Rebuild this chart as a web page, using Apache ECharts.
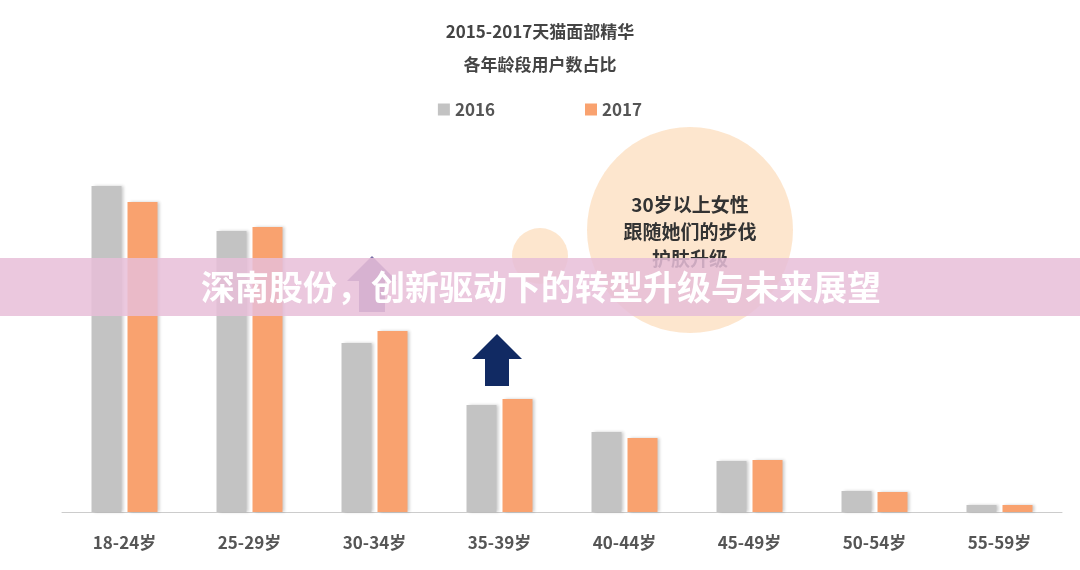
<!DOCTYPE html>
<html><head><meta charset="utf-8">
<script src="https://cdn.jsdelivr.net/npm/echarts@6/dist/echarts.min.js"></script>
<style>html,body{margin:0;background:#fff}#c{width:1080px;height:570px}</style>
</head><body><div id="c"></div>
<script>
var ages = ['18-24岁','25-29岁','30-34岁','35-39岁','40-44岁','45-49岁','50-54岁','55-59岁'];
var s2016 = [326, 281, 169, 107, 80, 51, 21, 7];
var s2017 = [310, 285, 181, 113, 74, 52, 20, 7];
var font = '"Noto Sans CJK SC", sans-serif';

var chart = echarts.init(document.getElementById('c'));
chart.setOption({
  animation: false,
  title: [
    { text: '2015-2017天猫面部精华', left: 'center', top: 18,
      textStyle: { fontFamily: font, fontSize: 17, fontWeight: 'bold', color: '#444' } },
    { text: '各年龄段用户数占比', left: 'center', top: 51,
      textStyle: { fontFamily: font, fontSize: 17, fontWeight: 'bold', color: '#444' } }
  ],
  legend: {
    top: 96, left: 'center', itemGap: 90, itemWidth: 12, itemHeight: 12, icon: 'rect',
    textStyle: { fontFamily: font, fontSize: 17, fontWeight: 'bold', color: '#555' },
    data: ['2016', '2017']
  },
  grid: { left: 62, right: 18, top: 162, bottom: 58 },
  xAxis: {
    type: 'category', data: ages,
    axisLine: { lineStyle: { color: '#ccc' } }, axisTick: { show: false },
    axisLabel: { fontFamily: font, fontSize: 17, fontWeight: 'bold', color: '#555', margin: 22 }
  },
  yAxis: { type: 'value', min: 0, max: 350, show: false },
  series: [
    { name: '2016', type: 'bar', data: s2016, barWidth: 30, barGap: '20%',
      itemStyle: { color: '#c3c3c3', shadowColor: 'rgba(0,0,0,0.2)', shadowBlur: 3, shadowOffsetX: 2 } },
    { name: '2017', type: 'bar', data: s2017, barWidth: 30,
      itemStyle: { color: '#f9a26f', shadowColor: 'rgba(0,0,0,0.2)', shadowBlur: 3, shadowOffsetX: 2 } }
  ],
  graphic: [
    { type: 'circle', shape: { cx: 690, cy: 230, r: 103 }, style: { fill: 'rgba(252,220,185,0.7)' }, z: 1 },
    { type: 'circle', shape: { cx: 540, cy: 256, r: 28 }, style: { fill: 'rgba(252,220,185,0.7)' }, z: 1 },
    { type: 'text', x: 690, y: 205, style: { text: '30岁以上女性', fill: '#333', font: 'bold 19px ' + font, textAlign: 'center', textVerticalAlign: 'middle' }, z: 3 },
    { type: 'text', x: 690, y: 232, style: { text: '跟随她们的步伐', fill: '#333', font: 'bold 19px ' + font, textAlign: 'center', textVerticalAlign: 'middle' }, z: 3 },
    { type: 'text', x: 690, y: 259, style: { text: '护肤升级', fill: '#333', font: 'bold 19px ' + font, textAlign: 'center', textVerticalAlign: 'middle' }, z: 3 },
    { type: 'polygon', shape: { points: [[372,256],[397,281],[385,281],[385,312],[359,312],[359,281],[347,281]] },
      style: { fill: '#7b6fa6' }, z: 3 },
    { type: 'polygon', shape: { points: [[497,334],[522,359],[509,359],[509,386],[485,386],[485,359],[472,359]] },
      style: { fill: '#112a63' }, z: 3 },
    { type: 'rect', shape: { x: 0, y: 258, width: 1080, height: 58 }, style: { fill: 'rgba(232,190,216,0.85)' }, z: 10 },
    { type: 'text', x: 541, y: 287, style: { text: '深南股份，创新驱动下的转型升级与未来展望', fill: '#fff', font: 'bold 34px ' + font, textAlign: 'center', textVerticalAlign: 'middle' }, z: 11 }
  ]
});
</script></body></html>
